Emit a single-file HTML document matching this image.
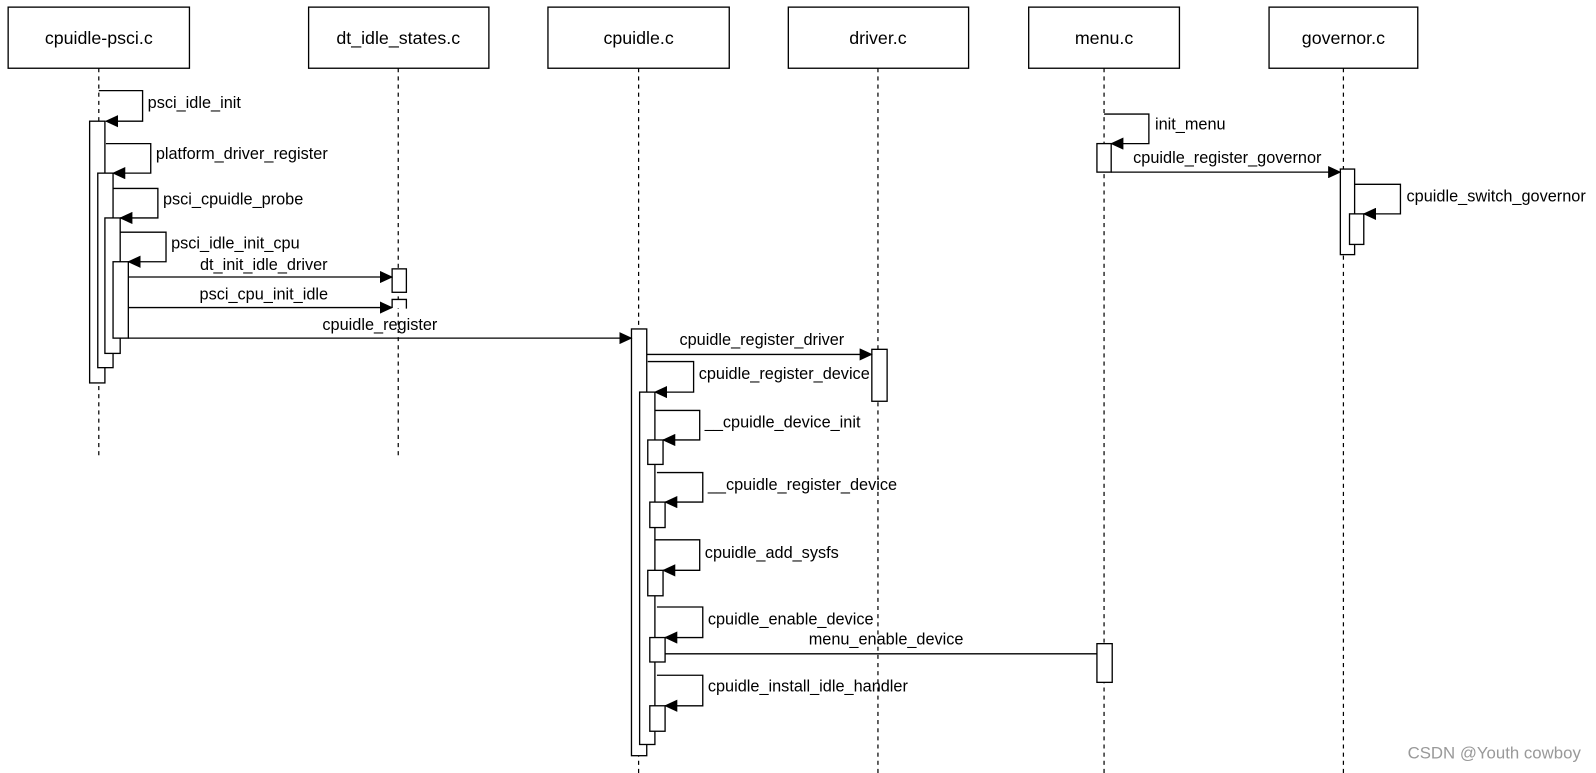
<!DOCTYPE html>
<html><head><meta charset="utf-8"><style>
html,body{margin:0;padding:0;background:#fff;width:1596px;height:773px;overflow:hidden}
svg{display:block}
text{font-family:"Liberation Sans",Arial,sans-serif;font-size:16px;fill:#000}
.h{font-size:17.5px;text-anchor:middle}
</style></head><body>
<svg width="1596" height="773" viewBox="0 0 1567 759" preserveAspectRatio="none" xmlns="http://www.w3.org/2000/svg">
<defs><marker id="a" markerWidth="13" markerHeight="12" refX="12" refY="6" orient="auto" markerUnits="userSpaceOnUse"><path d="M0,0 L13,6 L0,12 z" fill="#000"/></marker></defs>
<g fill="#fff" stroke="#000" stroke-width="1.3">
<rect x="8" y="7" width="178" height="60"/>
<rect x="303" y="7" width="177" height="60"/>
<rect x="538" y="7" width="178" height="60"/>
<rect x="774" y="7" width="177" height="60"/>
<rect x="1010" y="7" width="148" height="60"/>
<rect x="1246" y="7" width="146" height="60"/>
</g>
<text class="h" x="97" y="43">cpuidle-psci.c</text>
<text class="h" x="391" y="43">dt_idle_states.c</text>
<text class="h" x="627" y="43">cpuidle.c</text>
<text class="h" x="862" y="43">driver.c</text>
<text class="h" x="1084" y="43">menu.c</text>
<text class="h" x="1319" y="43">governor.c</text>
<g stroke="#000" stroke-width="1.2" stroke-dasharray="4,4">
<line x1="97" y1="67" x2="97" y2="450"/>
<line x1="391" y1="67" x2="391" y2="450"/>
<line x1="627" y1="67" x2="627" y2="759"/>
<line x1="862" y1="67" x2="862" y2="759"/>
<line x1="1084" y1="67" x2="1084" y2="759"/>
<line x1="1319" y1="67" x2="1319" y2="759"/>
</g>
<g fill="#fff" stroke="#000" stroke-width="1.3">
<rect x="88" y="119" width="15" height="257"/>
<rect x="96" y="170" width="15" height="191"/>
<rect x="103" y="214" width="15" height="133"/>
<rect x="111" y="257" width="15" height="75"/>
<rect x="385" y="264" width="14" height="23"/>
<path d="M385,302 L385,294 L399,294 L399,303"/>
<rect x="620" y="323" width="15" height="419"/>
<rect x="856" y="343" width="15" height="51"/>
<rect x="628" y="385" width="15" height="346"/>
<rect x="636" y="432" width="15" height="24"/>
<rect x="638" y="493" width="15" height="25"/>
<rect x="636" y="560" width="15" height="25"/>
<rect x="638" y="626" width="15" height="24"/>
<rect x="638" y="693" width="15" height="25"/>
<rect x="1077" y="141" width="14" height="28"/>
<rect x="1077" y="632" width="15" height="38"/>
<rect x="1316" y="166" width="14" height="84"/>
<rect x="1325" y="210" width="14" height="30"/>
</g>
<g fill="none" stroke="#000" stroke-width="1.3" marker-end="url(#a)">
<path d="M97,89 H140 V119 H104"/>
<path d="M104,141 H148 V170 H111"/>
<path d="M111,185 H155 V214 H118"/>
<path d="M118,228 H163 V257 H126"/>
<path d="M126,272 H385"/>
<path d="M126,302 H385"/>
<path d="M126,332 H620"/>
<path d="M635,348 H856"/>
<path d="M636,355 H681 V385 H643"/>
<path d="M643,403 H687 V432 H651"/>
<path d="M645,464 H690 V493 H653"/>
<path d="M643,530 H687 V560 H651"/>
<path d="M645,596 H690 V626 H653"/>
<path d="M653,642 H1077" marker-end="none"/>
<path d="M645,663 H690 V693 H653"/>
<path d="M1084,112 H1128 V141 H1091"/>
<path d="M1091,169 H1316"/>
<path d="M1330,181 H1375 V210 H1339"/>
</g>
<text x="145" y="106">psci_idle_init</text>
<text x="153" y="156">platform_driver_register</text>
<text x="160" y="201">psci_cpuidle_probe</text>
<text x="168" y="244">psci_idle_init_cpu</text>
<text x="259" y="265" text-anchor="middle">dt_init_idle_driver</text>
<text x="259" y="294" text-anchor="middle">psci_cpu_init_idle</text>
<text x="373" y="324" text-anchor="middle">cpuidle_register</text>
<text x="748" y="339" text-anchor="middle">cpuidle_register_driver</text>
<text x="686" y="372">cpuidle_register_device</text>
<text x="692" y="420">__cpuidle_device_init</text>
<text x="695" y="481">__cpuidle_register_device</text>
<text x="692" y="548">cpuidle_add_sysfs</text>
<text x="695" y="613">cpuidle_enable_device</text>
<text x="870" y="633" text-anchor="middle">menu_enable_device</text>
<text x="695" y="679">cpuidle_install_idle_handler</text>
<text x="1134" y="127">init_menu</text>
<text x="1205" y="160" text-anchor="middle">cpuidle_register_governor</text>
<text x="1381" y="198">cpuidle_switch_governor</text>
<text x="1382" y="745" style="fill:#999;font-size:16.5px">CSDN @Youth cowboy</text>
</svg>
</body></html>
